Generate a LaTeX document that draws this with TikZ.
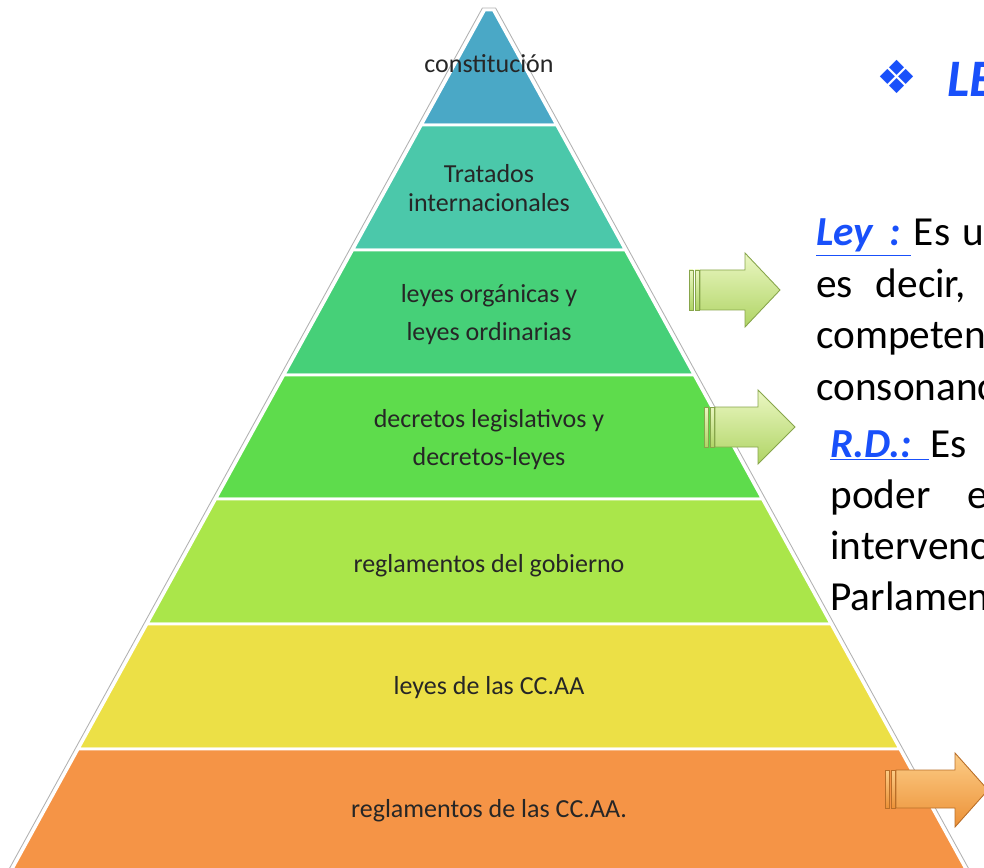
\documentclass[tikz,border=0pt]{standalone}
\usepackage{fontspec}
\setmainfont{Carlito}
\newfontfamily\simbolos{DejaVu Sans}
\usetikzlibrary{positioning}

\definecolor{capaA}{RGB}{74,168,198}
\definecolor{capaB}{RGB}{75,200,170}
\definecolor{capaC}{RGB}{70,208,120}
\definecolor{capaD}{RGB}{94,220,76}
\definecolor{capaE}{RGB}{170,230,74}
\definecolor{capaF}{RGB}{236,224,70}
\definecolor{capaG}{RGB}{245,148,70}
\definecolor{azul}{RGB}{25,80,250}
\definecolor{verdeArriba}{RGB}{235,247,195}
\definecolor{verdeAbajo}{RGB}{175,212,100}
\definecolor{verdeBorde}{RGB}{135,165,75}
\definecolor{naranjaArriba}{RGB}{252,205,135}
\definecolor{naranjaAbajo}{RGB}{236,145,55}
\definecolor{naranjaBorde}{RGB}{185,110,40}

\begin{document}
\begin{tikzpicture}[x=0.02cm, y=-0.02cm,
    capa/.style={draw=white, line width=1.7pt, line join=round},
    rotulo/.style={font=\fontsize{14.8}{16}\selectfont, text=black!85, anchor=base, inner sep=0pt},
    texto/.style={font=\fontsize{23.5}{26}\selectfont, anchor=base west, inner sep=0pt},
    flechaV/.style={draw=verdeBorde, line width=0.5pt, top color=verdeArriba, bottom color=verdeAbajo},
    flechaN/.style={draw=naranjaBorde, line width=0.5pt, top color=naranjaArriba, bottom color=naranjaAbajo}]
    \useasboundingbox (0,0) rectangle (984,868);
    \clip (0,0) rectangle (984,868);

    % piramide
    \filldraw[capa, fill=capaA] (484.6,10) -- (493.4,10) -- (556.7,125) -- (421.3,125) -- cycle;
    \filldraw[capa, fill=capaB] (421.3,125) -- (556.7,125) -- (625.4,250) -- (352.6,250) -- cycle;
    \filldraw[capa, fill=capaC] (352.6,250) -- (625.4,250) -- (694.2,375) -- (283.8,375) -- cycle;
    \filldraw[capa, fill=capaD] (283.8,375) -- (694.2,375) -- (762.4,499) -- (215.6,499) -- cycle;
    \filldraw[capa, fill=capaE] (215.6,499) -- (762.4,499) -- (831.1,624) -- (146.9,624) -- cycle;
    \filldraw[capa, fill=capaF] (146.9,624) -- (831.1,624) -- (899.9,749) -- (78.1,749) -- cycle;
    \filldraw[capa, fill=capaG] (78.1,749) -- (899.9,749) -- (968.6,874) -- (9.4,874) -- cycle;
    \draw[gray!60, line width=0.5pt] (6.4,874) -- (482.4,8) -- (495.6,8) -- (971.6,874);

    \node[rotulo] (constitucion) at (489,73) {constitución};
    \node[rotulo] (tratados1) at (489,183) {Tratados};
    \node[rotulo] (tratados2) at (489,212) {internacionales};
    \node[rotulo] (organicas1) at (489,302) {leyes orgánicas y};
    \node[rotulo] (organicas2) at (489,340) {leyes ordinarias};
    \node[rotulo] (decretos1) at (489,427) {decretos legislativos y};
    \node[rotulo] (decretos2) at (489,465) {decretos-leyes};
    \node[rotulo] (reglamentos) at (489,572) {reglamentos del gobierno};
    \node[rotulo] (leyesccaa) at (489,694) {leyes de las CC.AA};
    \node[rotulo] (reglaccaa) at (489,817) {reglamentos de las CC.AA.};

    % flechas
    \fill[flechaV] (689,270) rectangle (693,310);
    \fill[flechaV] (695,270) rectangle (699,310);
    \draw[flechaV] (700,270) -- (745,270) -- (745,253) -- (780,290) -- (745,327) -- (745,310) -- (700,310) -- cycle;
    \fill[flechaV] (704,407) rectangle (708,447);
    \fill[flechaV] (710,407) rectangle (714,447);
    \draw[flechaV] (715,407) -- (758,407) -- (758,390) -- (795,427) -- (758,464) -- (758,447) -- (715,447) -- cycle;
    \fill[flechaN] (885,770) rectangle (889,808);
    \fill[flechaN] (891,770) rectangle (895,808);
    \draw[flechaN] (896,770) -- (955,770) -- (955,753) -- (988,790) -- (955,827) -- (955,808) -- (896,808) -- cycle;

    % texto
    \node[text=azul, font=\fontsize{26}{28}\selectfont\simbolos] (rombo) at (897,77) {❖};
    \node[text=azul, font=\fontsize{30}{34}\selectfont\bfseries\itshape, anchor=base west, inner sep=0pt] (titulo) at (947,97) {LE};

    \node[texto] (ley1) at (816,246) {\textcolor{azul}{\bfseries\itshape\underline{Ley\hspace{0.4em}:\hspace{0.25em}}}\hspace{0.06em}Es\hspace{0.3em}u};
    \node[texto] (ley2) at (816,297) {es\hspace{0.55em}decir,};
    \node[texto] (ley3) at (816,348) {competen};
    \node[texto] (ley4) at (816,400) {consonanc};
    \node[texto] (rd1) at (830,457) {\textcolor{azul}{\bfseries\itshape\underline{R.D.:\hspace{0.4em}}}\hspace{0.03em}Es};
    \node[texto] (rd2) at (830,508) {poder\hspace{0.9em}e};
    \node[texto] (rd3) at (830,559) {intervenc};
    \node[texto] (rd4) at (830,610) {Parlamen};
\end{tikzpicture}
\end{document}
